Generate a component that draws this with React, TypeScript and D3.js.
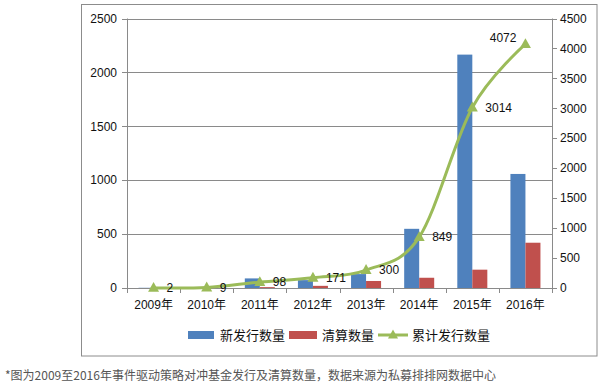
import React from "react";
import * as d3 from "d3";

const years = ["2009年", "2010年", "2011年", "2012年", "2013年", "2014年", "2015年", "2016年"];
const newIssued = [2, 7, 89, 73, 129, 549, 2165, 1058];
const liquidated = [0, 0, 8, 20, 65, 95, 170, 420];
const cumulative = [2, 9, 98, 171, 300, 849, 3014, 4072];
const leftTicks = [0, 500, 1000, 1500, 2000, 2500];
const rightTicks = [0, 500, 1000, 1500, 2000, 2500, 3000, 3500, 4000, 4500];
const seriesNames = ["新发行数量", "清算数量", "累计发行数量"];
const caption = "*图为2009至2016年事件驱动策略对冲基金发行及清算数量，数据来源为私募排排网数据中心";

const W = 603;
const H = 389;
const plotL = 127;
const plotR = 552;
const plotT = 18.5;
const plotB = 288;
const BLUE = "#4f81bd";
const RED = "#c0504d";
const GREEN = "#9bbb59";
const GRID = "#8a8a8a";
const FONT = "'Liberation Sans', Arial, 'Noto Sans CJK SC', sans-serif";
const CJK = "'Noto Sans CJK SC', 'Liberation Sans', sans-serif";

function tri(cx: number, cy: number, s: number) {
  const h = s * 0.9;
  return `M${cx},${cy - h * 0.6}L${cx + s / 2},${cy + h * 0.4}L${cx - s / 2},${cy + h * 0.4}Z`;
}

export default function App() {
  const x0 = d3
    .scaleBand<string>()
    .domain(years)
    .range([plotL, plotR])
    .paddingInner(0.435)
    .paddingOuter(0.2175);
  const x1 = d3
    .scaleBand<string>()
    .domain(seriesNames.slice(0, 2))
    .range([0, x0.bandwidth()]);
  const yL = d3.scaleLinear().domain([0, 2500]).range([plotB, plotT]);
  const yR = d3.scaleLinear().domain([0, 4500]).range([plotB, plotT]);
  const step = x0.step();
  const cx = (y: string) => (x0(y) as number) + x0.bandwidth() / 2;

  const line = d3
    .line<number>()
    .x((_, i) => cx(years[i]))
    .y((d) => yR(d))
    .curve(d3.curveCardinal.tension(0));

  const barData = [newIssued, liquidated];
  const barColors = [BLUE, RED];

  return (
    <svg
      width={W}
      height={H}
      style={{ position: "absolute", left: 0, top: 0, background: "#fff" }}
      fontFamily={FONT}
    >
      <rect x={0} y={0} width={W} height={H} fill="#fff" />
      <rect x={81.5} y={4.5} width={515.5} height={351.5} fill="#fff" stroke="#8c8c8c" strokeWidth={1} />
      {/* gridlines */}
      {leftTicks.map((t) => (
        <line key={"g" + t} x1={plotL} x2={plotR} y1={Math.round(yL(t)) + 0.5} y2={Math.round(yL(t)) + 0.5} stroke={GRID} strokeWidth={1} />
      ))}
      {/* left axis */}
      <line x1={plotL + 0.5} x2={plotL + 0.5} y1={plotT} y2={plotB} stroke={GRID} />
      {leftTicks.map((t) => (
        <g key={"l" + t}>
          <line x1={plotL - 5} x2={plotL} y1={Math.round(yL(t)) + 0.5} y2={Math.round(yL(t)) + 0.5} stroke={GRID} />
          <text x={117} y={yL(t)} dy="0.35em" textAnchor="end" fontSize={12} fill="#111">
            {t}
          </text>
        </g>
      ))}
      {/* right axis */}
      <line x1={plotR + 0.5} x2={plotR + 0.5} y1={plotT} y2={plotB} stroke={GRID} />
      {rightTicks.map((t) => (
        <g key={"r" + t}>
          <line x1={plotR} x2={plotR + 5} y1={Math.round(yR(t)) + 0.5} y2={Math.round(yR(t)) + 0.5} stroke={GRID} />
          <text x={560} y={yR(t)} dy="0.35em" textAnchor="start" fontSize={12} fill="#111">
            {t}
          </text>
        </g>
      ))}
      {/* bars */}
      {barData.map((vals, si) =>
        vals.map((v, i) => {
          const bx = (x0(years[i]) as number) + (x1(seriesNames[si]) as number);
          return (
            <rect
              key={`b${si}-${i}`}
              x={bx}
              y={yL(v)}
              width={x1.bandwidth()}
              height={plotB - yL(v)}
              fill={barColors[si]}
            />
          );
        })
      )}
      {/* bottom axis */}
      <line x1={plotL} x2={plotR} y1={plotB + 0.5} y2={plotB + 0.5} stroke={GRID} />
      {d3.range(years.length + 1).map((i) => (
        <line
          key={"ct" + i}
          x1={Math.round(plotL + i * step) + 0.5}
          x2={Math.round(plotL + i * step) + 0.5}
          y1={plotB}
          y2={plotB + 5}
          stroke={GRID}
        />
      ))}
      {years.map((y) => (
        <text key={"x" + y} x={cx(y)} y={305} dy="0.35em" textAnchor="middle" fontSize={12} fill="#111">
          {y}
        </text>
      ))}
      {/* line */}
      <path d={line(cumulative) || ""} fill="none" stroke={GREEN} strokeWidth={3} strokeLinejoin="round" />
      {cumulative.map((v, i) => (
        <path key={"m" + i} d={tri(cx(years[i]), yR(v), 11)} fill={GREEN} />
      ))}
      {cumulative.map((v, i) => {
        const last = i === cumulative.length - 1;
        return (
          <text
            key={"dl" + i}
            x={last ? cx(years[i]) - 9 : cx(years[i]) + 13}
            y={last ? yR(v) - 6 : yR(v)}
            dy="0.35em"
            textAnchor={last ? "end" : "start"}
            fontSize={12}
            fill="#111"
          >
            {v}
          </text>
        );
      })}
      {/* legend */}
      <rect x={188} y={331} width={26} height={8} fill={BLUE} />
      <text x={220} y={335} dy="0.35em" fontSize={13} fontFamily={CJK} fill="#111">
        {seriesNames[0]}
      </text>
      <rect x={289} y={331} width={28} height={8} fill={RED} />
      <text x={322} y={335} dy="0.35em" fontSize={13} fontFamily={CJK} fill="#111">
        {seriesNames[1]}
      </text>
      <line x1={378} x2={408} y1={335} y2={335} stroke={GREEN} strokeWidth={3} />
      <path d={tri(393, 335, 10)} fill={GREEN} />
      <text x={412} y={335} dy="0.35em" fontSize={13} fontFamily={CJK} fill="#111">
        {seriesNames[2]}
      </text>
      {/* caption */}
      <text x={5} y={376} dy="0.35em" fontSize={12} fontFamily={CJK} fill="#555">
        {caption}
      </text>
    </svg>
  );
}
